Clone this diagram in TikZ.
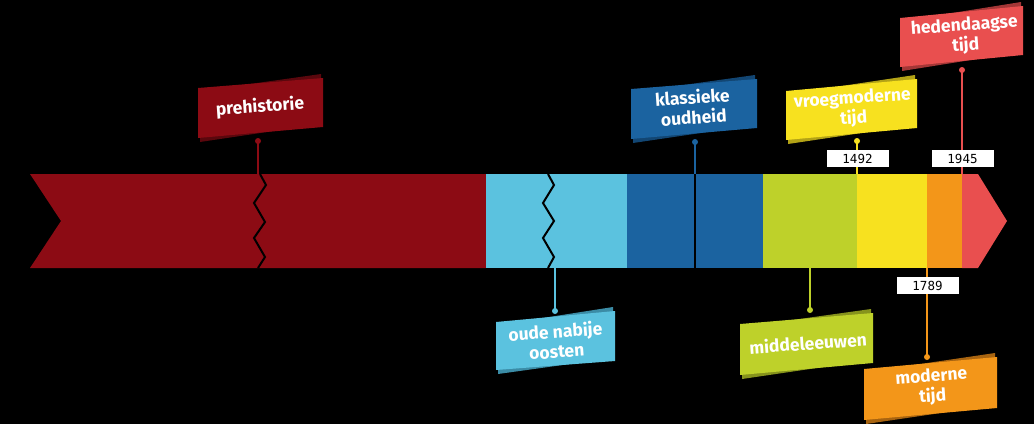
\documentclass[tikz,border=0pt]{standalone}
\usepackage{fontspec}
\setmainfont{Fira Sans}
\newfontfamily\datefont{DejaVu Sans Mono}
\definecolor{cPre}{HTML}{8C0B14}
\definecolor{cPreD}{HTML}{5A070D}
\definecolor{cLb}{HTML}{5BC2DF}
\definecolor{cLbD}{HTML}{3B8CA6}
\definecolor{cDb}{HTML}{1B63A0}
\definecolor{cDbD}{HTML}{124673}
\definecolor{cGr}{HTML}{BED12A}
\definecolor{cGrD}{HTML}{86931C}
\definecolor{cYe}{HTML}{F7E11F}
\definecolor{cYeD}{HTML}{B3A316}
\definecolor{cOr}{HTML}{F39619}
\definecolor{cOrD}{HTML}{A86410}
\definecolor{cRe}{HTML}{E94F4F}
\definecolor{cReD}{HTML}{A33636}
\newcommand{\myribbon}[8]{%
  \fill[#8] (#1+2,#3+3) -- (#2-2,#4-4) -- (#2-2,#6-3) -- (#1+2,#5+4) -- cycle;
  \fill[#7] (#1,#3) -- (#2,#4) -- (#2,#6) -- (#1,#5) -- cycle;}
\tikzset{
  lbl/.style={text=white, font=\fontsize{17.5}{20}\selectfont\bfseries, align=center, inner sep=0pt},
  pin/.style={line width=2pt},
  pindot/.style={circle, inner sep=0pt, minimum size=6pt},
  datebox/.style={fill=white, text=black, font=\datefont\fontsize{12.5}{13}\selectfont, minimum width=62pt, minimum height=17pt, inner sep=0pt},
  zig/.style={black, line width=2pt, line join=miter}
}
\begin{document}
\begin{tikzpicture}[x=1pt,y=-1pt]
\fill[black] (0,0) rectangle (1034,424);
\useasboundingbox (0,0) rectangle (1034,424);
% bar
\fill[cPre] (30,174) -- (486,174) -- (486,268) -- (30,268) -- (61,221) -- cycle;
\fill[cLb] (486,174) rectangle (627,268);
\fill[cDb] (627,174) rectangle (763,268);
\fill[cGr] (763,174) rectangle (857,268);
\fill[cYe] (857,174) rectangle (927,268);
\fill[cOr] (927,174) rectangle (962,268);
\fill[cRe] (962,174) -- (978,174) -- (1007,221) -- (978,268) -- (962,268) -- cycle;
% breaks
\draw[zig] (260,174) -- (266,185) -- (254,203) -- (265,222) -- (254,238) -- (265,257) -- (258,268);
\draw[zig] (548,174) -- (554,185) -- (543,203) -- (554,221) -- (543,238) -- (554,257) -- (548,268);
\draw[black, line width=2pt] (695,174) -- (695,268);
% anchor points on bar
\coordinate (preB) at (258,174);
\coordinate (oudB) at (555,268);
\coordinate (klaB) at (695,174);
\coordinate (midB) at (810,268);
\coordinate (vroB) at (857,174);
\coordinate (hedB) at (962,174);
\coordinate (modB) at (927,268);
% ribbons
\myribbon{198}{323}{88}{78}{138}{127}{cPre}{cPreD}
\myribbon{496}{615}{322}{311}{370}{361}{cLb}{cLbD}
\myribbon{631}{757}{89}{79}{139}{128}{cDb}{cDbD}
\myribbon{740}{873}{324}{313}{375}{363}{cGr}{cGrD}
\myribbon{786}{917}{91}{79}{140}{128}{cYe}{cYeD}
\myribbon{900}{1023}{18}{6}{67}{55}{cRe}{cReD}
\myribbon{864}{997}{369}{357}{420}{408}{cOr}{cOrD}
% labels
\node[lbl, rotate=4] (pre) at (260,107) {prehistorie};
\node[lbl, rotate=4] (oud) at (556,341) {oude nabije\\oosten};
\node[lbl, rotate=4] (kla) at (693,107) {klassieke\\oudheid};
\node[lbl, rotate=4] (mid) at (808,343) {middeleeuwen};
\node[lbl, rotate=4] (vro) at (853,109) {vroegmoderne\\tijd};
\node[lbl, rotate=4] (hed) at (965,36) {hedendaagse\\tijd};
\node[lbl, rotate=4] (mod) at (932,387) {moderne\\tijd};
% pins
\node[pindot, fill=cPre] (preD) at (258,141) {};
\node[pindot, fill=cLb] (oudD) at (555,311) {};
\node[pindot, fill=cDb] (klaD) at (695,142) {};
\node[pindot, fill=cGr] (midD) at (810,310) {};
\node[pindot, fill=cYe] (vroD) at (857,141) {};
\node[pindot, fill=cRe] (hedD) at (962,70) {};
\node[pindot, fill=cOr] (modD) at (927,357) {};
\draw[pin, cPre] (preD.center) -- (preB);
\draw[pin, cLb] (oudD.center) -- (oudB);
\draw[pin, cDb] (klaD.center) -- (klaB);
\draw[pin, cGr] (midD.center) -- (midB);
\draw[pin, cYe] (vroD.center) -- (vroB);
\draw[pin, cRe] (hedD.center) -- (hedB);
\draw[pin, cOr] (modD.center) -- (modB);
% dates
\node[datebox] (d1492) at (857.5,158.5) {1492};
\node[datebox] (d1945) at (962.5,158.5) {1945};
\node[datebox] (d1789) at (927.5,285.5) {1789};
\end{tikzpicture}
\end{document}
